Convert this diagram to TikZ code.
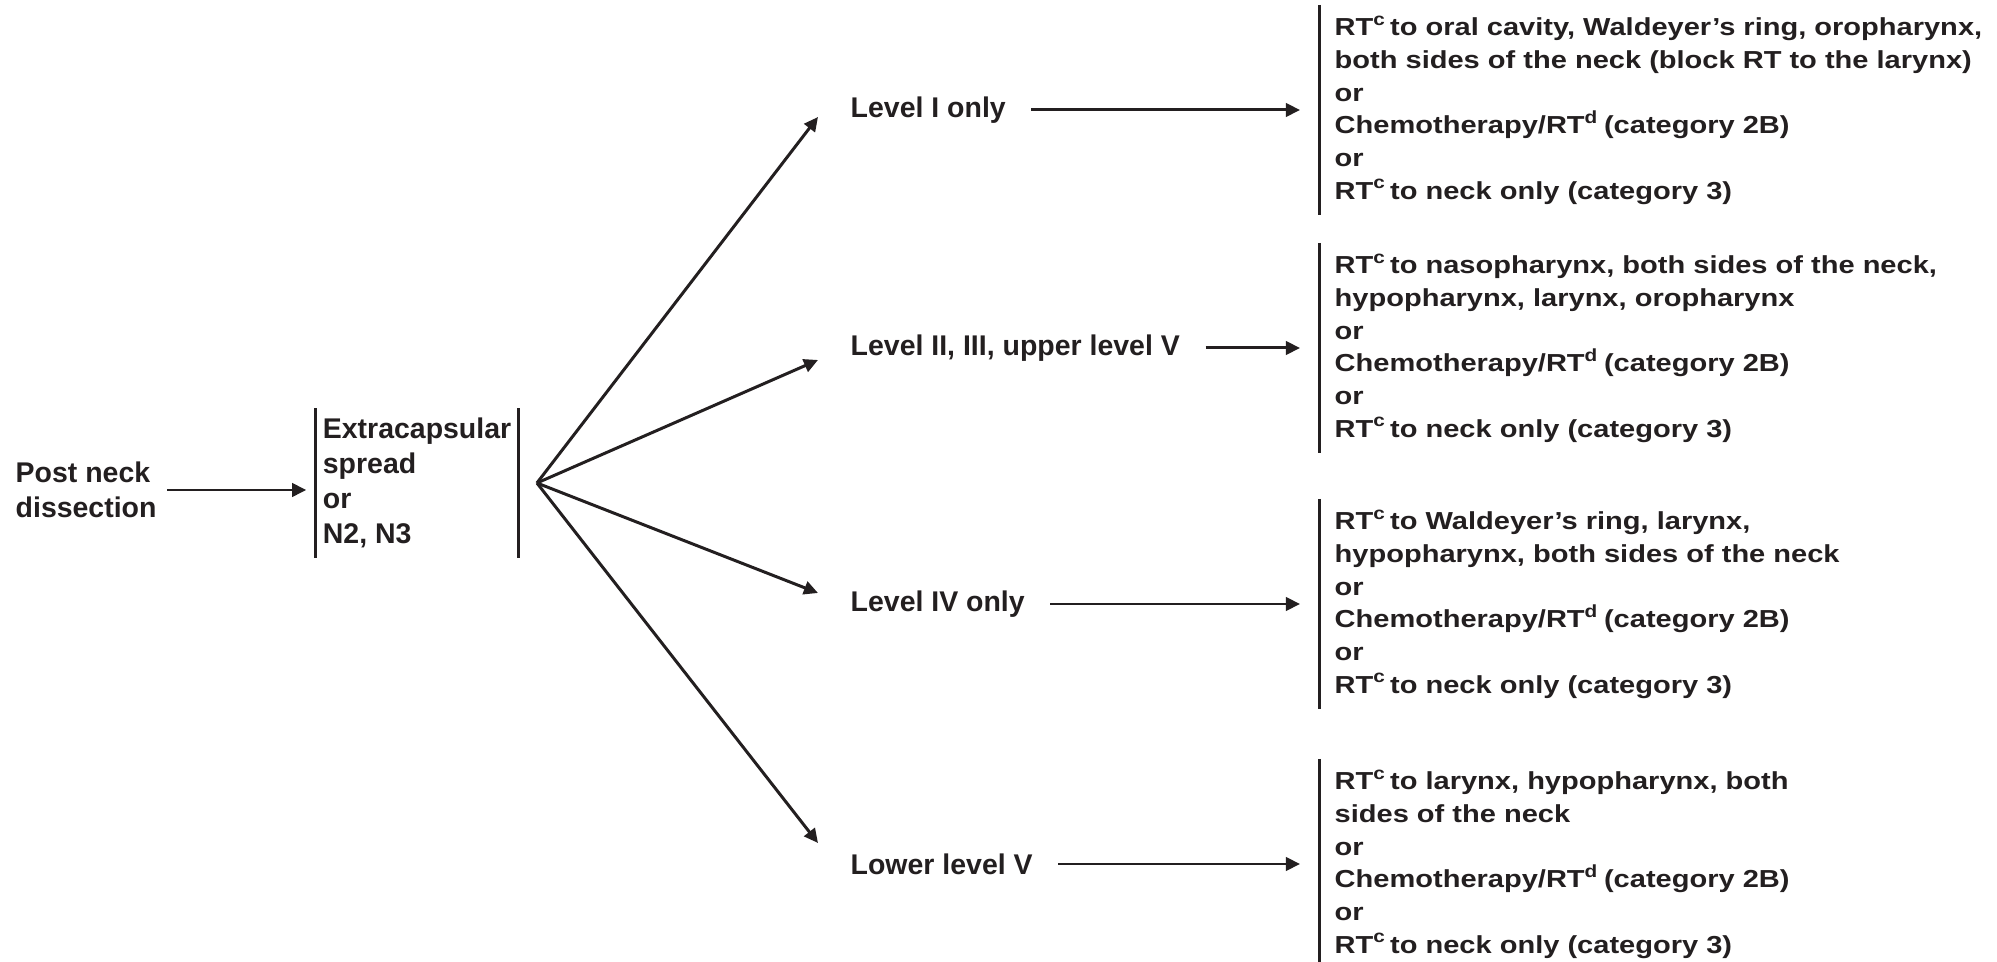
\documentclass[tikz,border=0pt]{standalone}
\usepackage{fontspec}
\setmainfont{Liberation Sans}
\newfontfamily\wideface{Liberation Sans}[FakeStretch=1.18]
\usetikzlibrary{arrows.meta,positioning,calc}
\definecolor{ink}{HTML}{231F20}
\newcommand{\RTc}{RT\textsuperscript{c}\hspace{0.14em}}
\newcommand{\RTd}{RT\textsuperscript{d}\hspace{0.2em}}

\begin{document}
\begin{tikzpicture}[
  every node/.style={font=\fontsize{8.1}{10}\selectfont\bfseries, text=ink},
  stage/.style={anchor=west, align=left, inner xsep=0.1cm},
  box/.style={align=left, inner xsep=0.07cm, inner ysep=0.09cm},
  option/.style={anchor=west, align=left, inner xsep=0.15cm, inner ysep=0.1cm,
                 font=\wideface\fontsize{7}{9.3}\selectfont\bfseries},
  arr/.style={-{Triangle[length=4pt, width=3.8pt]}, line width=0.85pt, draw=ink},
  bar/.style={line width=0.85pt, draw=ink},
]
\useasboundingbox (0,0) rectangle (19.97,-9.62);

%% Start and node group
\node[stage] (post) at (0.05,-4.90) {Post neck\\dissection};
\node[box, right=1.48cm of post, yshift=0.07cm] (ecs) {Extracapsular\\spread\\or\\N2, N3};
\coordinate (fan) at ([xshift=0.18cm]ecs.east);

%% Node levels
\node[stage] (lv1) at (8.40,-1.10) {Level I only};
\node[stage] (lv2) at (8.40,-3.48) {Level II, III, upper level V};
\node[stage] (lv3) at (8.40,-6.04) {Level IV only};
\node[stage] (lv4) at (8.40,-8.64) {Lower level V};

%% Treatment options
\node[option] (rx1) at (13.19,-1.10)
  {\RTc to oral cavity, Waldeyer’s ring, oropharynx,\\
   both sides of the neck (block RT to the larynx)\\or\\
   Chemotherapy/\RTd (category 2B)\\or\\\RTc to neck only (category 3)};
\node[option] (rx2) at (13.19,-3.48)
  {\RTc to nasopharynx, both sides of the neck,\\
   hypopharynx, larynx, oropharynx\\or\\
   Chemotherapy/\RTd (category 2B)\\or\\\RTc to neck only (category 3)};
\node[option] (rx3) at (13.19,-6.04)
  {\RTc to Waldeyer’s ring, larynx,\\
   hypopharynx, both sides of the neck\\or\\
   Chemotherapy/\RTd (category 2B)\\or\\\RTc to neck only (category 3)};
\node[option] (rx4) at (13.19,-8.64)
  {\RTc to larynx, hypopharynx, both\\
   sides of the neck\\or\\
   Chemotherapy/\RTd (category 2B)\\or\\\RTc to neck only (category 3)};

%% Bars
\foreach \n in {ecs,rx1,rx2,rx3,rx4}
  \draw[bar] (\n.north west) -- (\n.south west);
\draw[bar] (ecs.north east) -- (ecs.south east);

%% Arrows
\draw[arr, shorten >=0.09cm] (post.east) -- (post.east -| ecs.west);
\foreach \n/\dy in {lv1/-0.07, lv2/-0.12, lv3/0.11, lv4/0.21}
  \draw[arr] (fan) -- ([xshift=-0.22cm, yshift=\dy cm]\n.west);
\foreach \i in {1,...,4}
  \draw[arr, shorten <=0.15cm, shorten >=0.19cm] (lv\i.east) -- (lv\i.east -| rx\i.west);

\end{tikzpicture}
\end{document}
